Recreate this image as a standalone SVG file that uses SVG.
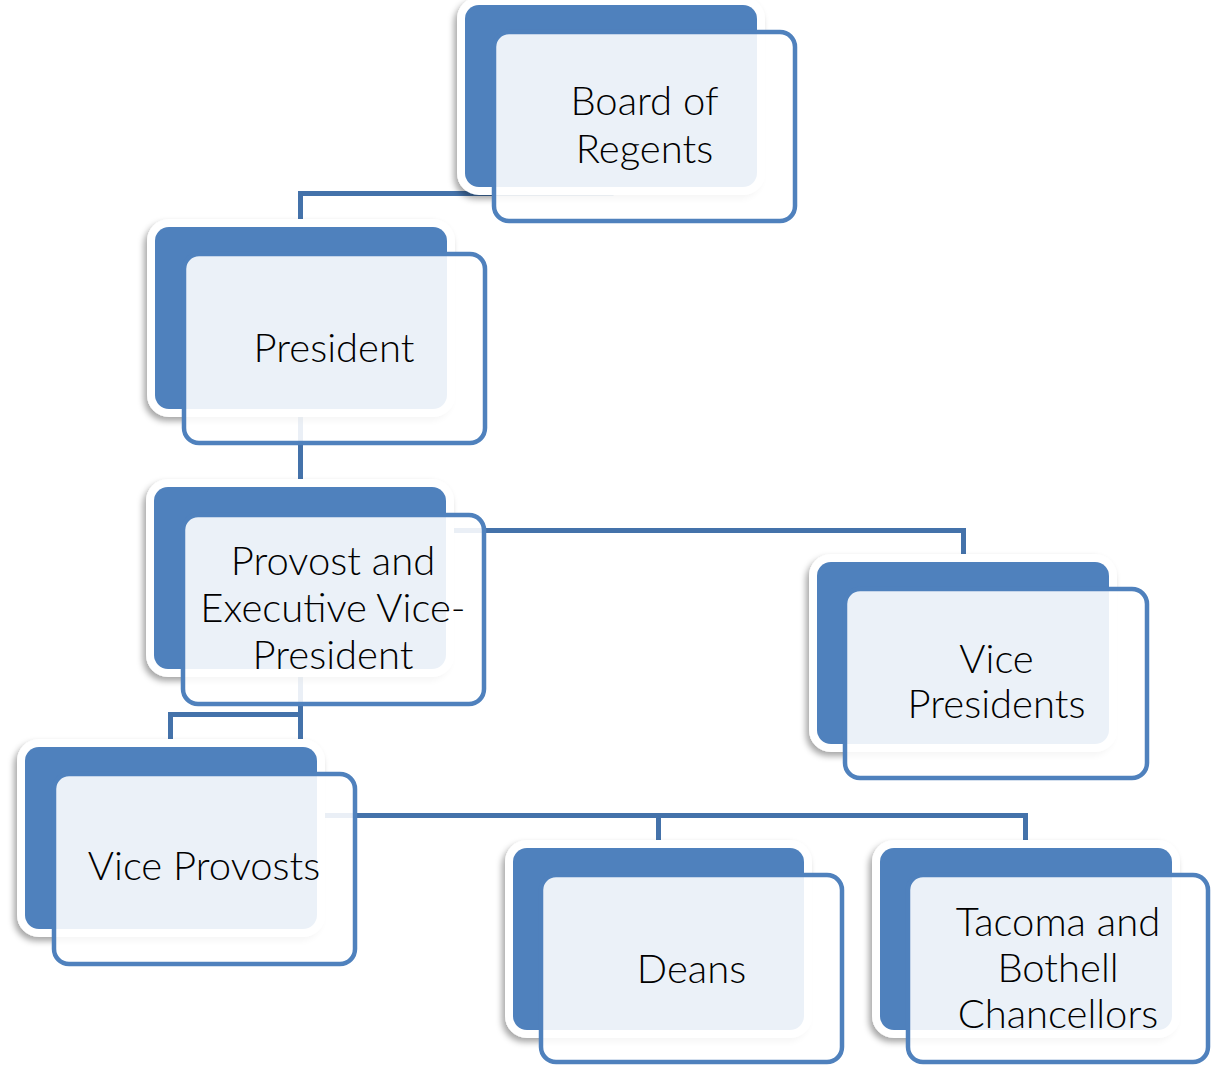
<svg xmlns="http://www.w3.org/2000/svg" width="1211" height="1065" viewBox="0 0 1211 1065">
<defs>
<filter id="sh" x="-10%" y="-10%" width="120%" height="125%">
<feDropShadow dx="-3" dy="4" stdDeviation="3" flood-color="#000" flood-opacity="0.35"/>
</filter>
<style>
.con{fill:none;stroke:#4472AA;stroke-width:5;stroke-linejoin:miter}
.mat{fill:#fff;filter:url(#sh)}
.back{fill:#4F81BD}
.front{fill:#fff;fill-opacity:0.89;stroke:#4F81BD;stroke-width:4.5}
.t{font-family:"Segoe UI","Lato","Open Sans",sans-serif;font-weight:300;font-size:40px;fill:#000;text-anchor:middle}
</style>
</defs>
<rect width="1211" height="1065" fill="#fff"/>
<g id="connectors">
<path class="con" d="M611,187 V193.5 H300.5 V229"/>
<path class="con" d="M300.5,409 V489"/>
<path class="con" d="M300.5,530.5 H963.5 V564"/>
<path class="con" d="M300.5,670 V714.5 H170.5 V749"/>
<path class="con" d="M300.5,670 V815.5 H1025.5 V850"/>
<path class="con" d="M658.5,815.5 V850"/>
</g>
<g id="board">
<rect class="mat" x="457" y="-3" width="308" height="198" rx="22"/>
<rect class="back" x="465" y="5" width="292" height="182" rx="14"/>
<rect class="front" x="494" y="32" width="301" height="189" rx="15"/>
<text class="t" x="644.5" y="115">Board of</text>
<text class="t" x="644.5" y="163">Regents</text>
</g>
<g id="president">
<rect class="mat" x="147" y="219" width="308" height="198" rx="22"/>
<rect class="back" x="155" y="227" width="292" height="182" rx="14"/>
<rect class="front" x="184" y="254" width="301" height="189" rx="15"/>
<text class="t" x="334" y="362">President</text>
</g>
<g id="provost">
<rect class="mat" x="146" y="479" width="308" height="198" rx="22"/>
<rect class="back" x="154" y="487" width="292" height="182" rx="14"/>
<rect class="front" x="183" y="515" width="301" height="189" rx="15"/>
<text class="t" x="333" y="575">Provost and</text>
<text class="t" x="333" y="622">Executive Vice-</text>
<text class="t" x="333" y="669">President</text>
</g>
<g id="vice-presidents">
<rect class="mat" x="809" y="554" width="308" height="198" rx="22"/>
<rect class="back" x="817" y="562" width="292" height="182" rx="14"/>
<rect class="front" x="845" y="589" width="302" height="189" rx="15"/>
<text class="t" x="996.5" y="673">Vice</text>
<text class="t" x="996.5" y="718">Presidents</text>
</g>
<g id="vice-provosts">
<rect class="mat" x="17" y="739" width="308" height="198" rx="22"/>
<rect class="back" x="25" y="747" width="292" height="182" rx="14"/>
<rect class="front" x="54" y="774" width="301" height="190" rx="15"/>
<text class="t" x="204" y="880">Vice Provosts</text>
</g>
<g id="deans">
<rect class="mat" x="505" y="840" width="307" height="198" rx="22"/>
<rect class="back" x="513" y="848" width="291" height="182" rx="14"/>
<rect class="front" x="541" y="875" width="301" height="187" rx="15"/>
<text class="t" x="691.5" y="983">Deans</text>
</g>
<g id="tacoma-bothell">
<rect class="mat" x="872" y="840" width="308" height="198" rx="22"/>
<rect class="back" x="880" y="848" width="292" height="182" rx="14"/>
<rect class="front" x="908" y="875" width="300" height="187" rx="15"/>
<text class="t" x="1058" y="936">Tacoma and</text>
<text class="t" x="1058" y="982">Bothell</text>
<text class="t" x="1058" y="1028">Chancellors</text>
</g>
</svg>
